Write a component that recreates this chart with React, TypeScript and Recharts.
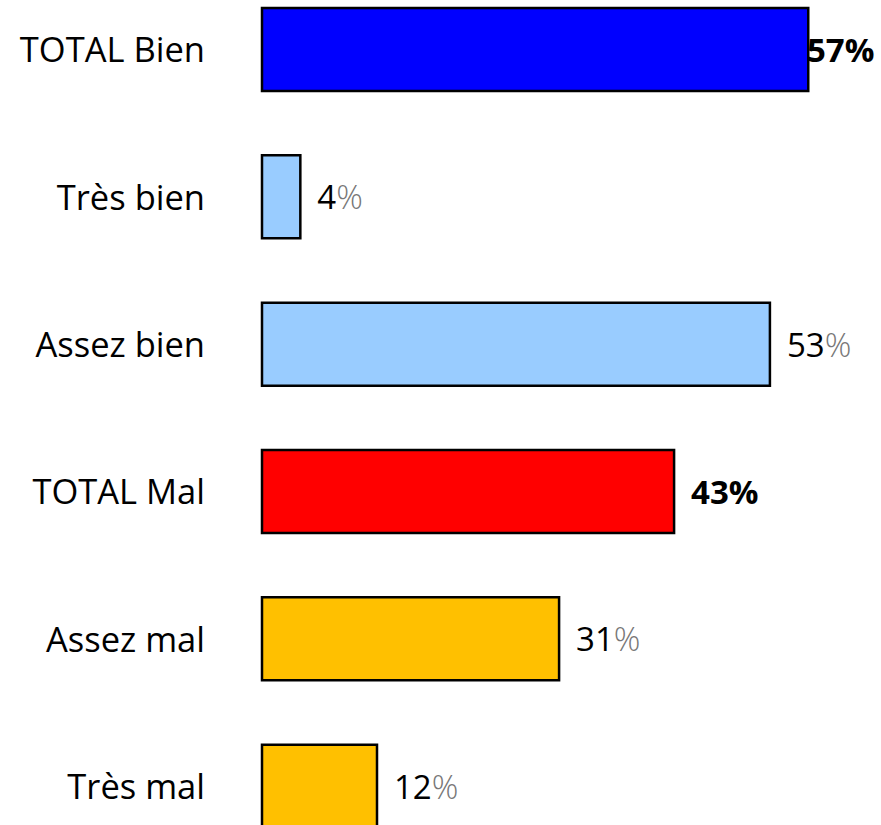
import React from "react";
import { BarChart, Bar, XAxis, YAxis, Cell, LabelList } from "recharts";

const categories = ["TOTAL Bien", "Très bien", "Assez bien", "TOTAL Mal", "Assez mal", "Très mal"];
const values = [57, 4, 53, 43, 31, 12];
const barColors = ["#0000FF", "#99CCFF", "#99CCFF", "#FF0000", "#FFC000", "#FFC000"];

const data = categories.map((name, i) => ({ name, value: values[i] }));

const FONT = "'Open Sans', 'DejaVu Sans', sans-serif";
const W = 881;

const Tick = (props: any) => {
  const { x, y, payload } = props;
  return (
    <text x={x} y={y} dy={12.5} textAnchor="end" fontFamily={FONT} fontSize={34.5} fontWeight={500} fill="#000">
      {payload.value}
    </text>
  );
};

const ValueLabel = (props: any) => {
  const { x, y, width, height, value, index } = props;
  const bold = categories[index].startsWith("TOTAL");
  const lw = bold ? 66 : 60;
  let lx = x + width + 17;
  if (lx + lw > W - 8) lx = W - 8 - lw;
  return (
    <text
      x={lx}
      y={y + height / 2}
      dy={12.5}
      fontFamily={FONT}
      fontSize={33}
      fontWeight={bold ? 700 : 500}
      fill="#000"
    >
      {value}
      <tspan fill={bold ? "#000" : "#777"} fontWeight={bold ? 700 : 300}>%</tspan>
    </text>
  );
};

export default function App() {
  return (
    <div style={{ position: "absolute", left: 0, top: 0, width: 881, height: 825, overflow: "hidden", background: "#fff" }}>
      <div style={{ position: "absolute", left: 0, top: -24 }}>
        <BarChart
          width={881}
          height={884}
          data={data}
          layout="vertical"
          margin={{ top: 0, right: 44, bottom: 0, left: 0 }}
        >
          <XAxis type="number" domain={[0, 60]} hide />
          <YAxis
            type="category"
            dataKey="name"
            width={262}
            axisLine={false}
            tickLine={false}
            tickSize={0}
            tickMargin={57}
            tick={<Tick />}
            interval={0}
          />
          <Bar dataKey="value" barSize={83} isAnimationActive={false} stroke="#000" strokeWidth={2.5}>
            {data.map((d, i) => (
              <Cell key={d.name} fill={barColors[i]} stroke="#000" strokeWidth={2.5} />
            ))}
            <LabelList dataKey="value" content={<ValueLabel />} />
          </Bar>
        </BarChart>
      </div>
    </div>
  );
}
